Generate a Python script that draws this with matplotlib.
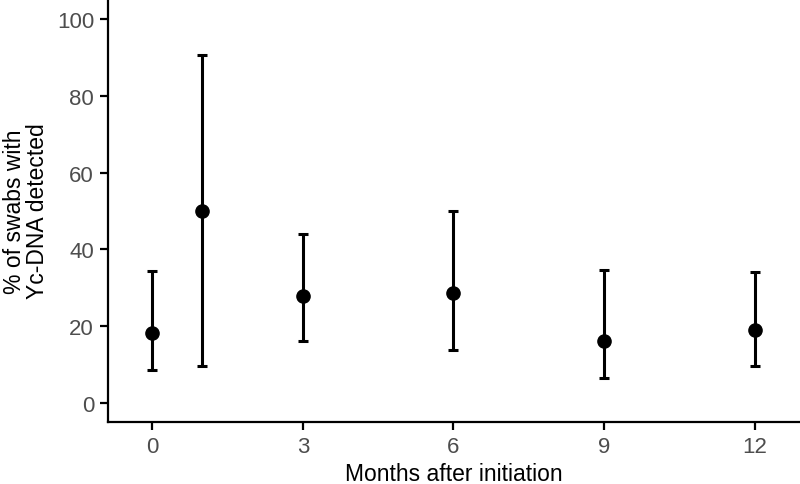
import matplotlib
matplotlib.use('Agg')
from matplotlib import pyplot as plt

plt.rcParams['font.family'] = ['Liberation Sans', 'DejaVu Sans']

months = [0, 1, 3, 6, 9, 12]
pct = [18.2, 50.0, 27.8, 28.6, 16.0, 19.0]
lower = [8.6, 9.5, 16.0, 13.9, 6.5, 9.5]
upper = [34.4, 90.5, 44.0, 50.0, 34.6, 34.1]
xticks = [0, 3, 6, 9, 12]
yticks = [0, 20, 40, 60, 80, 100]

err = [[p - lo for p, lo in zip(pct, lower)], [hi - p for p, hi in zip(pct, upper)]]

fig = plt.figure(figsize=(8, 4.85), dpi=100)
ax = fig.add_axes([0.135, 0.1285, 0.865, 0.8715])

ax.errorbar(months, pct, yerr=err, fmt='o', color='black', ms=9.5,
            elinewidth=2.2, capsize=3.4, capthick=2.2)

ax.set_xlim(-0.88, 12.9)
ax.set_ylim(-4.9, 105.2)
ax.set_xticks(xticks)
ax.set_yticks(yticks)

for s in ['top', 'right']:
    ax.spines[s].set_visible(False)
for s in ['left', 'bottom']:
    ax.spines[s].set_linewidth(1.6)

ax.tick_params(axis='both', labelsize=16, labelcolor='#4d4d4d', width=1.6,
               length=6, pad=4)

ax.set_xlabel('Months after initiation', fontsize=16.5, labelpad=4)
ax.set_ylabel('% of swabs with\nYc-DNA detected', fontsize=16.5, labelpad=6,
              linespacing=1.0)

plt.savefig('out.png', dpi=100)
